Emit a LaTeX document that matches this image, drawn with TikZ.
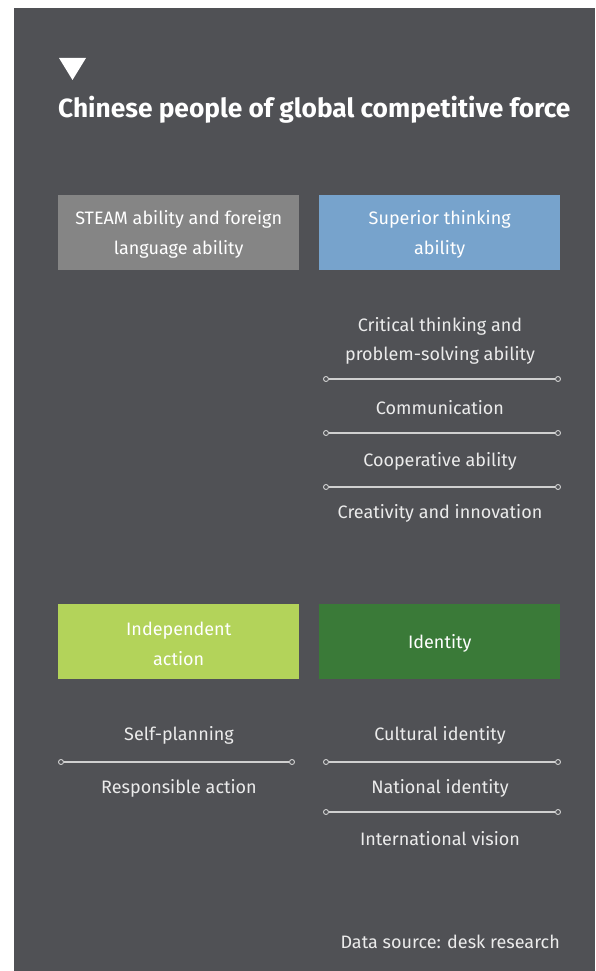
\documentclass[tikz,border=0pt]{standalone}
\usepackage{fontspec}
\setmainfont{Fira Sans}
\definecolor{bg}{HTML}{505155}
\definecolor{boxgrey}{HTML}{858585}
\definecolor{boxblue}{HTML}{77A3CC}
\definecolor{boxlime}{HTML}{B3D35A}
\definecolor{boxgreen}{HTML}{3A7A38}
\definecolor{linegrey}{HTML}{D0D0D0}
\begin{document}
\begin{tikzpicture}[x=1pt,y=1pt,
  catbox/.style={minimum width=241pt,minimum height=75pt,inner sep=0pt,text=white,align=center,font=\fontsize{18}{30}\selectfont,anchor=north west},
  boxtext/.style={text=white,align=center,font=\fontsize{18}{30}\selectfont,yshift=-2pt},
  item/.style={text=white!92!black,font=\fontsize{18}{29}\selectfont,align=center},
  endpt/.style={circle,draw=linegrey,fill=bg,line width=0.9pt,minimum size=5pt,inner sep=0pt},
  sep/.style={draw=linegrey,line width=1.2pt}]
\useasboundingbox (0,0) rectangle (595,-971);
\fill[white] (0,0) rectangle (595,-971);
\fill[bg] (14,-8) rectangle (595,-971);
\fill[white] (59,-58) -- (86,-58) -- (72.5,-80) -- cycle;
\node[anchor=west,text=white,font=\bfseries\fontsize{26.3}{28}\selectfont,inner sep=0pt] (title) at (58,-110) {Chinese people of global competitive force};
\node[catbox,fill=boxgrey] (steam) at (58,-195) {};
\node[catbox,fill=boxblue] (think) at (319,-195) {};
\node[catbox,fill=boxlime] (indep) at (58,-604) {};
\node[catbox,fill=boxgreen] (ident) at (319,-604) {};
\node[boxtext] (steamt) at (steam.center) {STEAM ability and foreign\\language ability};
\node[boxtext] (thinkt) at (think.center) {Superior thinking\\ability};
\node[boxtext] (indept) at (indep.center) {Independent\\action};
\node[boxtext] (identt) at (ident.center) {Identity};
% thinking items
\node[item] (crit) at (440,-341) {Critical thinking and\\problem-solving ability};
\node[item] (comm) at (440,-408) {Communication};
\node[item] (coop) at (440,-461) {Cooperative ability};
\node[item] (crea) at (440,-513) {Creativity and innovation};
\node[endpt] (a1) at (326,-379) {}; \node[endpt] (b1) at (558,-379) {};
\node[endpt] (a2) at (326,-433) {}; \node[endpt] (b2) at (558,-433) {};
\node[endpt] (a3) at (326,-487) {}; \node[endpt] (b3) at (558,-487) {};
\draw[sep] (a1) -- (b1); \draw[sep] (a2) -- (b2); \draw[sep] (a3) -- (b3);
% independent action items
\node[item] (self) at (179,-735) {Self-planning};
\node[item] (resp) at (179,-788) {Responsible action};
\node[endpt] (c1) at (61,-762) {}; \node[endpt] (d1) at (292,-762) {};
\draw[sep] (c1) -- (d1);
% identity items
\node[item] (cult) at (440,-735) {Cultural identity};
\node[item] (nat) at (440,-788) {National identity};
\node[item] (intl) at (440,-839) {International vision};
\node[endpt] (e1) at (326,-762) {}; \node[endpt] (f1) at (558,-762) {};
\node[endpt] (e2) at (326,-812) {}; \node[endpt] (f2) at (558,-812) {};
\draw[sep] (e1) -- (f1); \draw[sep] (e2) -- (f2);
\node[item,anchor=east,inner sep=0pt] (src) at (560,-942) {Data source: desk research};
\end{tikzpicture}
\end{document}
